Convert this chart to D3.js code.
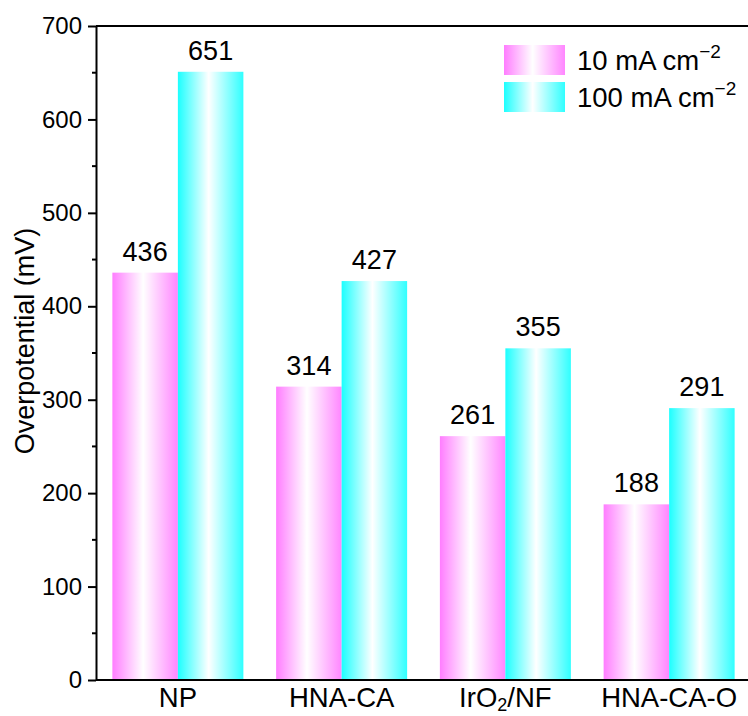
<!DOCTYPE html>
<html>
<head>
<meta charset="utf-8">
<script src="https://cdn.jsdelivr.net/npm/d3@7"></script>
<style>
  html, body { margin: 0; padding: 0; background: #fff; }
  svg { display: block; font-family: "Liberation Sans", Arial, sans-serif; }
</style>
</head>
<body>
<svg id="chart"></svg>
<script>
// chart data
const categories = ["NP", "HNA-CA", "IrO2/NF", "HNA-CA-O"];
const seriesNames = ["10 mA cm", "100 mA cm"];
const low = [436, 314, 261, 188];    // 10 mA cm-2
const high = [651, 427, 355, 291];   // 100 mA cm-2
const yTicks = [0, 100, 200, 300, 400, 500, 600, 700];

const WIDTH = 748;
const HEIGHT = 716;
const margin = { left: 96, top: 26, right: -3, bottom: 36 };
const colors = [
    { id: "gPink", edge: "#ff7dff", edge2: "#ff86ff" },
    { id: "gCyan", edge: "#1cffff", edge2: "#30ffff" }
];

const svg = d3.select("#chart").attr("width", WIDTH).attr("height", HEIGHT);

// gradients for the bars
const defs = svg.append("defs");
colors.forEach(c => {
    let g = defs.append("linearGradient").attr("id", c.id)
        .attr("x1", "0%").attr("x2", "100%").attr("y1", "0%").attr("y2", "0%");
    g.append("stop").attr("offset", "0%").attr("stop-color", c.edge);
    g.append("stop").attr("offset", "47%").attr("stop-color", "#ffffff");
    g.append("stop").attr("offset", "100%").attr("stop-color", c.edge2);
});

const x0 = margin.left, x1 = WIDTH - margin.right;
const yBottom = HEIGHT - margin.bottom, yTop = margin.top;

const x = d3.scaleBand().domain(categories).range([x0, x1])
    .paddingInner(0.2).paddingOuter(0.1);
const xSub = d3.scaleBand().domain([0, 1]).range([0, x.bandwidth()]);
const y = d3.scaleLinear().domain([0, 700]).range([yBottom, yTop]);

const rows = categories.map((c, i) => ({ cat: c, vals: [low[i], high[i]] }));

// bars
const groups = svg.append("g").selectAll("g")
    .data(rows).enter().append("g")
    .attr("transform", d => `translate(${x(d.cat)},0)`);

groups.selectAll("rect")
    .data(d => d.vals.map((v, k) => ({ v, k })))
    .enter().append("rect")
    .attr("x", d => xSub(d.k))
    .attr("width", xSub.bandwidth())
    .attr("y", d => y(d.v))
    .attr("height", d => y(0) - y(d.v))
    .attr("fill", d => `url(#${colors[d.k].id})`);

// value labels
groups.selectAll("text")
    .data(d => d.vals.map((v, k) => ({ v, k })))
    .enter().append("text")
    .attr("x", d => xSub(d.k) + xSub.bandwidth() / 2)
    .attr("y", d => y(d.v) - 12)
    .attr("text-anchor", "middle")
    .attr("font-size", 27)
    .text(d => d.v);

// frame lines (top and bottom)
svg.append("line").attr("x1", x0).attr("x2", x1 + 5)
    .attr("y1", yTop).attr("y2", yTop)
    .attr("stroke", "#000").attr("stroke-width", 2);
svg.append("line").attr("x1", x0).attr("x2", x1 + 5)
    .attr("y1", yBottom).attr("y2", yBottom)
    .attr("stroke", "#000").attr("stroke-width", 2);

// y axis
const yAxis = d3.axisLeft(y).tickValues(yTicks).tickSize(8).tickPadding(6).tickSizeOuter(0);
const gy = svg.append("g").attr("transform", `translate(${x0},0)`).call(yAxis);
gy.select(".domain").attr("stroke-width", 2);
gy.selectAll(".tick line").attr("stroke-width", 2);
gy.selectAll(".tick text").attr("font-size", 24).attr("fill", "#000")
    .attr("font-family", "Liberation Sans, Arial, sans-serif");

// minor ticks
const minor = d3.range(50, 700, 100);
svg.append("g").selectAll("line").data(minor).enter().append("line")
    .attr("x1", x0 - 4).attr("x2", x0)
    .attr("y1", d => y(d)).attr("y2", d => y(d))
    .attr("stroke", "#000").attr("stroke-width", 2);

// category labels (IrO2 with subscript)
const catText = svg.append("g").selectAll("text").data(categories).enter().append("text")
    .attr("x", d => x(d) + x.bandwidth() / 2)
    .attr("y", yBottom + 27)
    .attr("text-anchor", "middle")
    .attr("font-size", 27.5);
catText.each(function (d) {
    let t = d3.select(this);
    if (d === "IrO2/NF") {
        t.append("tspan").text("IrO");
        t.append("tspan").attr("font-size", 18).attr("dy", 4).text("2");
        t.append("tspan").attr("dy", -4).text("/NF");
    } else {
        t.text(d);
    }
});

// y axis title
svg.append("text")
    .attr("transform", `translate(34,${(yTop + yBottom) / 2 - 12}) rotate(-90)`)
    .attr("text-anchor", "middle")
    .attr("font-size", 27)
    .text("Overpotential (mV)");

// legend
const legend = svg.append("g").attr("transform", "translate(504,45)");
seriesNames.forEach((name, k) => {
    let row = legend.append("g").attr("transform", `translate(0,${k * 37})`);
    row.append("rect").attr("width", 61).attr("height", 30)
        .attr("fill", `url(#${colors[k].id})`);
    let t = row.append("text").attr("x", 73).attr("y", 25).attr("font-size", 27.5);
    t.append("tspan").text(name);
    t.append("tspan").attr("font-size", 19).attr("dy", -12).text("\u22122");
});
</script>
</body>
</html>
